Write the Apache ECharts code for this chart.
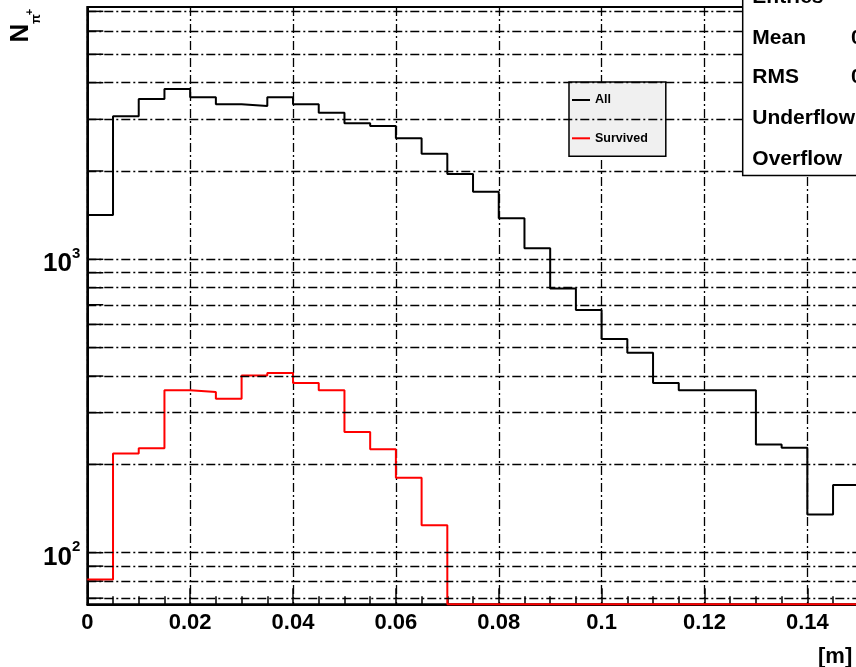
<!DOCTYPE html>
<html>
<head>
<meta charset="utf-8">
<script src="https://cdn.jsdelivr.net/npm/echarts@6/dist/echarts.min.js"></script>
<style>
  html, body { margin: 0; padding: 0; overflow: hidden; background: #ffffff; }
  #chart { width: 920px; height: 667px; }
</style>
</head>
<body>
<div id="chart"></div>
<script>
// Lower edges of the 5 mm bins along the flight distance [m]
const binLow = [
  0.000, 0.005, 0.010, 0.015, 0.020, 0.025, 0.030, 0.035, 0.040, 0.045,
  0.050, 0.055, 0.060, 0.065, 0.070, 0.075, 0.080, 0.085, 0.090, 0.095,
  0.100, 0.105, 0.110, 0.115, 0.120, 0.125, 0.130, 0.135, 0.140, 0.145
];
const binWidth = 0.005;

// Pion counts per bin, all pions
const allCounts = [
  1416, 3072, 3517, 3805, 3565, 3375, 3331, 3565, 3375, 3160,
  2908, 2847, 2585, 2291, 1953, 1700, 1380, 1090, 796, 672,
  535, 480, 379, 358, 358, 358, 234, 228, 135, 170
];

// Pion counts per bin, pions that survived
const survivedCounts = [
  81, 218, 227, 358, 353, 335, 402, 410, 379, 358,
  258, 225, 180, 124, 0, 0, 0, 0, 0, 0,
  0, 0, 0, 0, 0, 0, 0, 0, 0, 0
];

// Log-scale grid values (1..9 x decade) and labelled decades
const yGridValues = [70, 80, 90, 100, 200, 300, 400, 500, 600, 700, 800, 900,
                     1000, 2000, 3000, 4000, 5000, 6000, 7000];
const xTickStep = 0.02;

const xMin = 0, xMax = 0.16;
const yMin = 66.7, yMax = 7244;

const FONT = '"Liberation Sans", Arial, Helvetica, sans-serif';
const GRID_DASH = [9, 3, 2, 3];

// Histogram outline: one point per bin edge, empty bins sit on the axis floor
function stepPoints(counts) {
  const pts = counts.map((c, i) => [binLow[i], Math.max(c, yMin)]);
  const last = counts.length - 1;
  pts.push([binLow[last] + binWidth, Math.max(counts[last], yMin)]);
  return pts;
}

// Statistics of the "All" histogram for the stats panel
function histStats(counts) {
  let n = 0, s = 0, s2 = 0;
  counts.forEach((c, i) => {
    const x = binLow[i] + binWidth / 2;
    n += c; s += c * x; s2 += c * x * x;
  });
  const mean = s / n;
  const rms = Math.sqrt(s2 / n - mean * mean);
  return { n, mean, rms };
}
function fmtG(v) {
  return String(parseFloat(v.toPrecision(4)));
}
const st = histStats(allCounts);
const statRows = [
  ['Entries', String(st.n)],
  ['Mean', fmtG(st.mean)],
  ['RMS', fmtG(st.rms)],
  ['Underflow', '0'],
  ['Overflow', '0']
];

// Right edge of the value column, so the RMS value starts at x = 851
const measureCtx = document.createElement('canvas').getContext('2d');
measureCtx.font = 'bold 21px ' + FONT;
const valueRight = 851 + measureCtx.measureText(statRows[2][1]).width;

const statY = [-3.5, 36.8, 76.7, 117.5, 157.8];
const statGraphics = [{
  type: 'rect', z: 100,
  shape: { x: 742.7, y: -20, width: 300, height: 195.5 },
  style: { fill: '#ffffff', stroke: '#000000', lineWidth: 1.5 }
}];
statRows.forEach((row, i) => {
  statGraphics.push({
    type: 'text', z: 101, x: 752.3, y: statY[i] + 1,
    style: { text: row[0], font: 'bold 21px ' + FONT, fill: '#000', align: 'left', verticalAlign: 'middle' }
  });
  statGraphics.push({
    type: 'text', z: 101, x: valueRight, y: statY[i] + 1,
    style: { text: row[1], font: 'bold 21px ' + FONT, fill: '#000', align: 'right', verticalAlign: 'middle' }
  });
});

const chart = echarts.init(document.getElementById('chart'), null, { renderer: 'canvas' });

chart.setOption({
  animation: false,
  backgroundColor: '#ffffff',
  grid: {
    left: 87.3, top: 7, width: 822.9, height: 597.3,
    show: true, borderColor: '#000', borderWidth: 2, backgroundColor: 'transparent'
  },
  legend: {
    data: ['All', 'Survived'],
    orient: 'vertical',
    left: 569, top: 82,
    padding: [11, 18, 11, 3],
    itemGap: 24.3,
    itemWidth: 18, itemHeight: 2,
    icon: 'rect',
    backgroundColor: '#f0f0f0',
    borderColor: '#000', borderWidth: 1.5, borderRadius: 0,
    selectedMode: false,
    textStyle: { fontSize: 12.5, fontWeight: 'bold', color: '#000', fontFamily: FONT, lineHeight: 14 }
  },
  xAxis: {
    type: 'value', min: xMin, max: xMax, interval: xTickStep,
    axisLine: { show: true, onZero: false, lineStyle: { color: '#000', width: 2 } },
    axisTick: { show: true, inside: true, length: 16, lineStyle: { color: '#000', width: 1.5 } },
    minorTick: { show: true, splitNumber: 4, length: 8, lineStyle: { color: '#000', width: 1.5 } },
    splitLine: { show: true, lineStyle: { color: '#000', type: GRID_DASH, width: 1.3 } },
    axisLabel: {
      color: '#000', fontSize: 22, fontWeight: 'bold', fontFamily: FONT, margin: 8,
      showMaxLabel: false,
      formatter: v => {
        const k = Math.round(v / xTickStep);
        if (Math.abs(v - k * xTickStep) > 1e-9) return '';
        return k === 0 ? '0' : String(parseFloat(v.toFixed(2)));
      }
    }
  },
  yAxis: {
    type: 'log', logBase: 10, min: yMin, max: yMax,
    axisLine: { show: true, onZero: false, lineStyle: { color: '#000', width: 2 } },
    axisTick: { show: false },
    splitLine: { show: false },
    axisLabel: {
      color: '#000', margin: 7,
      formatter: v => {
        const e = Math.log10(v);
        if (Math.abs(e - Math.round(e)) > 1e-6) return '';
        return '{b|10}{s|' + Math.round(e) + '}';
      },
      rich: {
        b: { fontSize: 26, fontWeight: 'bold', fontFamily: FONT, color: '#000', lineHeight: 26, padding: [10, 0, 0, 0] },
        s: { fontSize: 15, fontWeight: 'bold', fontFamily: FONT, color: '#000', verticalAlign: 'top', lineHeight: 15 }
      }
    }
  },
  graphic: [
    // y-axis title N_{pi^+}, reading upward
    { type: 'text', x: 20.5, y: 33, rotation: Math.PI / 2,
      style: { text: 'N', font: 'bold 26px ' + FONT, fill: '#000', align: 'center', verticalAlign: 'middle' } },
    { type: 'text', x: 36, y: 19, rotation: Math.PI / 2,
      style: { text: 'π', font: 'bold 13px ' + FONT, fill: '#000', align: 'center', verticalAlign: 'middle' } },
    { type: 'text', x: 30, y: 12, rotation: Math.PI / 2,
      style: { text: '+', font: 'bold 11px ' + FONT, fill: '#000', align: 'center', verticalAlign: 'middle' } },
    // x-axis title
    { type: 'text', x: 818, y: 657,
      style: { text: '[m]', font: 'bold 22px ' + FONT, fill: '#000', align: 'left', verticalAlign: 'middle' } }
  ].concat(statGraphics),
  series: [
    {
      // horizontal log grid
      name: 'grid', type: 'line', data: [], silent: true, z: 1,
      markLine: {
        silent: true, symbol: ['none', 'none'], label: { show: false },
        lineStyle: { color: '#000', type: GRID_DASH, width: 1.3 },
        emphasis: { disabled: true },
        data: yGridValues.map(v => ({ yAxis: v }))
      }
    },
    {
      // inward ticks on the log axis
      name: 'yticks', type: 'custom', silent: true, z: 2,
      data: yGridValues.map(v => [xMin, v]),
      renderItem: (params, api) => {
        const p = api.coord([api.value(0), api.value(1)]);
        return { type: 'line', shape: { x1: p[0], y1: p[1], x2: p[0] + 16, y2: p[1] },
                 style: { stroke: '#000', lineWidth: 1.5 } };
      }
    },
    {
      name: 'All', type: 'line', step: 'end', data: stepPoints(allCounts),
      symbol: 'none', clip: false, z: 3,
      lineStyle: { color: '#000', width: 2 }, itemStyle: { color: '#000' }
    },
    {
      name: 'Survived', type: 'line', step: 'end', data: stepPoints(survivedCounts),
      symbol: 'none', clip: false, z: 4,
      lineStyle: { color: '#ff0000', width: 2 }, itemStyle: { color: '#ff0000' }
    }
  ]
});
</script>
</body>
</html>
